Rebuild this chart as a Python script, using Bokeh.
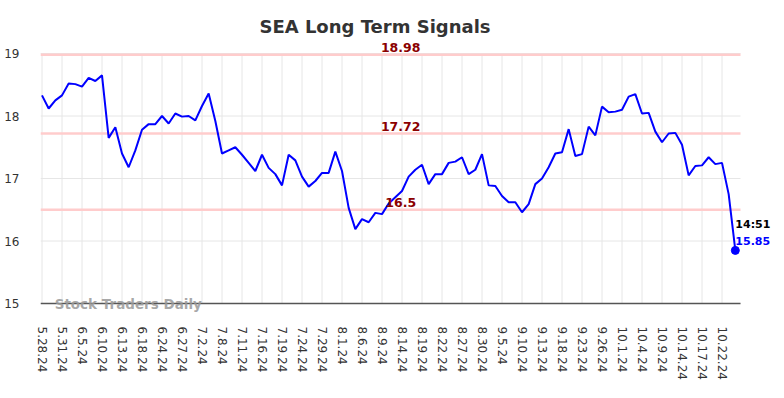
from bokeh.plotting import figure
from bokeh.models import Range1d, FixedTicker, Label, ColumnDataSource
from bokeh.embed import file_html
from bokeh.resources import INLINE

tick_labels = ["5.28.24", "5.31.24", "6.5.24", "6.10.24", "6.13.24", "6.18.24", "6.24.24",
               "6.27.24", "7.2.24", "7.8.24", "7.11.24", "7.16.24", "7.19.24", "7.24.24",
               "7.29.24", "8.1.24", "8.6.24", "8.9.24", "8.14.24", "8.19.24", "8.22.24",
               "8.27.24", "8.30.24", "9.5.24", "9.10.24", "9.13.24", "9.18.24", "9.23.24",
               "9.26.24", "10.1.24", "10.4.24", "10.9.24", "10.14.24", "10.17.24", "10.22.24"]

values = [18.33, 18.12, 18.25, 18.33, 18.52, 18.51, 18.47, 18.61, 18.56, 18.65,
          17.65, 17.82, 17.40, 17.18, 17.45, 17.78, 17.87, 17.87, 18.00, 17.88,
          18.04, 17.99, 18.00, 17.93, 18.16, 18.36, 17.92, 17.40, 17.45, 17.50,
          17.38, 17.25, 17.12, 17.38, 17.17, 17.07, 16.89, 17.38, 17.29, 17.03,
          16.87, 16.96, 17.09, 17.09, 17.43, 17.12, 16.53, 16.19, 16.35, 16.30,
          16.45, 16.43, 16.60, 16.70, 16.80, 17.03, 17.14, 17.22, 16.91, 17.07,
          17.07, 17.25, 17.27, 17.34, 17.07, 17.14, 17.39, 16.89, 16.88, 16.72,
          16.62, 16.62, 16.46, 16.59, 16.91, 17.00, 17.18, 17.40, 17.42, 17.79,
          17.36, 17.39, 17.83, 17.69, 18.15, 18.06, 18.07, 18.10, 18.31, 18.35,
          18.04, 18.05, 17.75, 17.58, 17.72, 17.73, 17.54, 17.05, 17.20, 17.21,
          17.34, 17.23, 17.25, 16.75, 15.85]

y_ticks = [15, 16, 17, 18, 19]
levels = [18.98, 17.72, 16.5]
level_texts = ["18.98", "17.72", "16.5"]
last_time = "14:51"
last_value_text = "15.85"
title_text = "SEA Long Term Signals"
watermark = "Stock Traders Daily"

FONT = "DejaVu Sans"

xs = list(range(len(values)))
tick_pos = [i * 3 for i in range(len(tick_labels))]

# plotting-area extent (the frame is larger so that texts outside it are not clipped)
AX_X0, AX_X1 = -0.225, 104.775
AX_Y0, AX_Y1 = 15, 19

p = figure(width=776, height=382, output_backend="svg", toolbar_location=None,
           x_range=Range1d(AX_X0, 110.175), y_range=Range1d(14.856, 19.848),
           min_border_left=40, min_border_right=0, min_border_top=0, min_border_bottom=70,
           title=None)
p.outline_line_color = None
p.background_fill_color = "white"
p.border_fill_color = "white"
p.xgrid.visible = False
p.ygrid.visible = False

# axes (labels only; lines drawn below over the plotting area)
p.xaxis.ticker = FixedTicker(ticks=tick_pos)
p.xaxis.major_label_overrides = {pos: lab for pos, lab in zip(tick_pos, tick_labels)}
p.xaxis.major_label_orientation = "vertical"
p.xaxis.major_label_text_font = FONT
p.xaxis.major_label_text_font_size = "12px"
p.xaxis.major_label_text_color = "#333333"
p.xaxis.major_label_standoff = 8
p.xaxis.major_tick_line_color = None
p.xaxis.minor_tick_line_color = None
p.xaxis.axis_line_color = None

p.yaxis.ticker = FixedTicker(ticks=y_ticks)
p.yaxis.major_label_text_font = FONT
p.yaxis.major_label_text_font_size = "12px"
p.yaxis.major_label_text_color = "#333333"
p.yaxis.major_label_standoff = 15
p.yaxis.major_tick_line_color = None
p.yaxis.minor_tick_line_color = None
p.yaxis.axis_line_color = None

# grid lines
p.segment(x0=tick_pos, y0=[AX_Y0] * len(tick_pos), x1=tick_pos, y1=[AX_Y1] * len(tick_pos),
          line_color="#e6e6e6", line_width=1)
p.segment(x0=[AX_X0] * len(y_ticks), y0=y_ticks, x1=[AX_X1] * len(y_ticks), y1=y_ticks,
          line_color="#e6e6e6", line_width=1)

# signal levels
p.segment(x0=[AX_X0] * len(levels), y0=levels, x1=[AX_X1] * len(levels), y1=levels,
          line_color="#ffcccc", line_width=2.5)
for lv, txt in zip(levels, level_texts):
    p.add_layout(Label(x=53.8, y=lv, text=txt, text_align="center", text_baseline="bottom",
                       y_offset=3, text_font=FONT, text_font_size="12.5px",
                       text_font_style="bold", text_color="#8b0000"))

# bottom axis line
p.segment(x0=[AX_X0], y0=[AX_Y0], x1=[AX_X1], y1=[AX_Y0], line_color="#555555", line_width=1.5)

src = ColumnDataSource(dict(x=xs, y=values))
p.line("x", "y", source=src, line_color="#0000ff", line_width=2)
p.scatter(x=[xs[-1]], y=[values[-1]], size=8, color="#0000ff")

p.add_layout(Label(x=xs[-1], y=values[-1], text=last_time, text_align="left",
                   text_baseline="bottom", x_offset=0, y_offset=19, text_font=FONT,
                   text_font_size="11px", text_font_style="bold", text_color="#000000"))
p.add_layout(Label(x=xs[-1], y=values[-1], text=last_value_text, text_align="left",
                   text_baseline="bottom", x_offset=0, y_offset=5, text_font=FONT,
                   text_font_size="11px", text_font_style="bold", text_color="#0000ff"))

p.add_layout(Label(x=1.9, y=AX_Y0, text=watermark, text_align="left", text_baseline="middle",
                   text_font=FONT, text_font_size="13.5px", text_font_style="bold",
                   text_color="#999999", text_alpha=0.85))

p.add_layout(Label(x=49.95, y=19.43, text=title_text, text_align="center",
                   text_baseline="middle", text_font=FONT, text_font_size="18px",
                   text_font_style="bold", text_color="#333333"))

open("out.html", "w").write(file_html(p, INLINE))
